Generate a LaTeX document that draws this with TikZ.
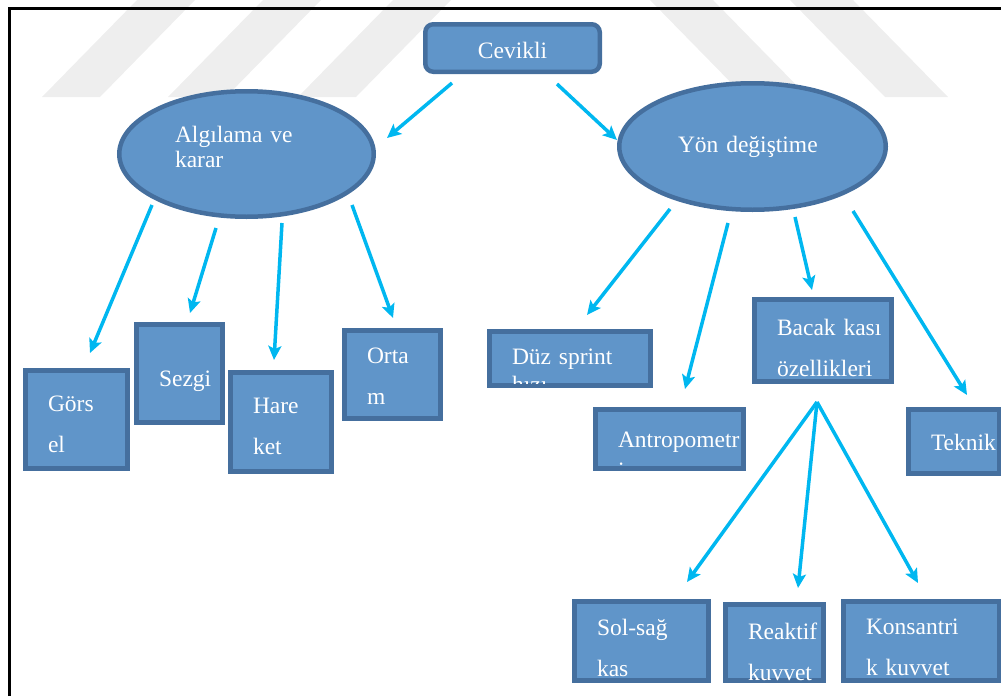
\documentclass[tikz,border=0pt]{standalone}
\usepackage{fontspec}
\setmainfont{Liberation Serif}
\usetikzlibrary{shapes.geometric}
\usetikzlibrary{positioning}
\usetikzlibrary{arrows.meta}
\definecolor{boxfill}{RGB}{96,149,201}
\definecolor{boxline}{RGB}{69,111,158}
\definecolor{arrowc}{RGB}{0,183,240}
\hyphenpenalty=10000\relax
\exhyphenpenalty=10000\relax
\tikzset{
    topnode/.style = {rectangle, rounded corners=8pt, line width=4.5pt, draw=boxline, fill=boxfill, minimum width=174.5pt, minimum height=47.5pt, inner sep=0pt, text=white, text height=20pt, text depth=0pt, font=\fontsize{23.5pt}{28pt}\selectfont},
    ellnode/.style = {ellipse, line width=4.5pt, draw=boxline, fill=boxfill, inner sep=0pt, align=left, text=white, font=\fontsize{23.5pt}{25pt}\selectfont},
    boxn/.style = {rectangle, line width=5pt, draw=boxline, fill=boxfill, anchor=north west, inner xsep=22.5pt, inner ysep=0pt, align=left, text=white, font=\fontsize{23.5pt}{41pt}\selectfont},
    cutn/.style = {inner sep=0pt, anchor=base west, text=white, font=\fontsize{23.5pt}{28pt}\selectfont}, % clipped line
    edgea/.style = {-{Stealth[length=14pt,width=13pt,inset=3pt]}, line width=3.5pt, draw=arrowc},
    wmark/.style = {fill=gray!13},
    frm/.style = {line width=2.5pt, draw=black}
}
\begin{document}
\begin{tikzpicture}[x=1pt,y=-1pt]
\path[use as bounding box] (0,0) rectangle (1001,696);

% watermark
\fill[wmark] (42,97) -- (100,97) -- (195,0) -- (137,0) -- cycle
    (168,97) -- (226,97) -- (321,0) -- (263,0) -- cycle
    (298,97) -- (356,97) -- (451,0) -- (393,0) -- cycle
    (650,0) -- (713,0) -- (808,97) -- (745,97) -- cycle
    (790,0) -- (853,0) -- (948,97) -- (885,97) -- cycle;
\draw[frm] (9.5,696) -- (9.5,8.5) -- (1001,8.5);

%
\node[topnode] at (512.5,48) (cev) {Cevikli};
\node[ellnode, minimum width=254.5pt, minimum height=125.5pt, text width=143pt, text height=16pt, text depth=40pt] at (246.5,154) (alg) {Algılama ve\\karar};
\node[ellnode, minimum width=266.5pt, minimum height=126.5pt, text width=149pt, text height=16pt, text depth=4pt] at (752.5,146.5) (yon) {Yön değiştime};
%
\node[boxn, text width=57pt, text height=40.5pt, text depth=57.5pt] at (23,368) (gor) {Görs\\el};
\node[boxn, text width=41pt, text height=61.5pt, text depth=36.5pt] at (134,322) (sez) {Sezgi};
\node[boxn, text width=56pt, text height=40.5pt, text depth=58.5pt] at (228,370) (har) {Hare\\ket};
\node[boxn, text width=51pt, text height=32.5pt, text depth=55.5pt] at (342,328) (ort) {Orta\\m};
%
\node[boxn, text width=116pt, text height=32.5pt, text depth=21.5pt] at (487,329) (duz) {Düz sprint};
\node[boxn, text width=103pt, text height=37.5pt, text depth=21.5pt] at (593,407) (ant) {Antropometr};
\node[boxn, text width=92pt, text height=35.5pt, text depth=46.5pt] at (752,297) (bac) {Bacak~kası\\özellikleri};
\node[boxn, text width=46pt, text height=40.5pt, text depth=23.5pt] at (906,407) (tek) {Teknik};
%
\node[boxn, text width=89pt, text height=33.5pt, text depth=45.5pt] at (572,599) (sol) {Sol-sağ\\kas};
\node[boxn, text width=53pt, text height=34.5pt, text depth=41.5pt] at (723,602) (rea) {Reaktif\\kuvvet};
\node[boxn, text width=111pt, text height=32.5pt, text depth=46.5pt] at (841,599) (kon) {Konsantri\\k kuvvet};

\begin{scope}
\clip ([shift={(5,5)}]duz.north west) rectangle ([shift={(-5,-5)}]duz.south east);
\node[cutn] at ([shift={(25,63)}]duz.north west) (duzb) {hızı};
\end{scope}
\begin{scope}
\clip ([shift={(5,5)}]ant.north west) rectangle ([shift={(-5,-5)}]ant.south east);
\node[cutn] at ([shift={(25,71)}]ant.north west) (antb) {i};
\end{scope}

%
\draw[edgea] ([shift={(-60.5,9)}]cev.south) -- ([shift={(11,-16)}]alg.east);
\draw[edgea] ([shift={(44.5,10)}]cev.south) -- ([shift={(0,-6.5)}]yon.west);
\draw[edgea] ([shift={(-94.5,-14)}]alg.south) -- ([shift={(13.5,-15)}]gor.north);
\draw[edgea] ([shift={(-30.5,9)}]alg.south) -- ([shift={(10.5,-9)}]sez.north);
\draw[edgea] ([shift={(35.5,4)}]alg.south) -- ([shift={(-7,-10)}]har.north);
\draw[edgea] ([shift={(105.5,-14)}]alg.south) -- ([shift={(0.5,-10)}]ort.north);
\draw[edgea] ([shift={(-82.5,-3)}]yon.south) -- ([shift={(17,-14)}]duz.north);
\draw[edgea] ([shift={(-24.5,11)}]yon.south) -- ([shift={(15.5,-18)}]ant.north);
\draw[edgea] ([shift={(42.5,5)}]yon.south) -- ([shift={(-11,-7)}]bac.north);
\draw[edgea] ([shift={(100.5,-1)}]yon.south) -- ([shift={(13,-12)}]tek.north);
\coordinate (bacfork) at ([shift={(-6,18)}]bac.south);
\draw[edgea] (bacfork) -- ([shift={(45.5,-17)}]sol.north);
\draw[edgea] (bacfork) -- ([shift={(23.5,-14)}]rea.north);
\draw[edgea] (bacfork) -- ([shift={(-3.5,-16)}]kon.north);

\end{tikzpicture}
\end{document}
